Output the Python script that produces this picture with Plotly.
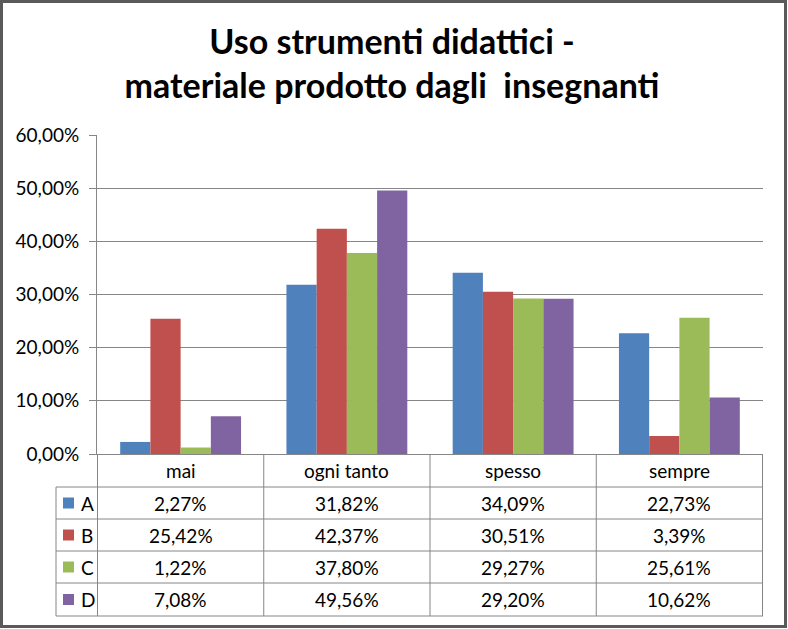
import plotly.graph_objects as go

categories = ["mai", "ogni tanto", "spesso", "sempre"]
series_names = ["A", "B", "C", "D"]
A = [2.27, 31.82, 34.09, 22.73]
B = [25.42, 42.37, 30.51, 3.39]
C = [1.22, 37.80, 29.27, 25.61]
D = [7.08, 49.56, 29.20, 10.62]
series_values = [A, B, C, D]
colors = ["#4F81BD", "#C0504D", "#9BBB59", "#8064A2"]
y_ticks = [0, 10, 20, 30, 40, 50, 60]
title_text = "Uso strumenti didattici -<br>materiale prodotto dagli\u00a0 insegnanti"

W, H = 788, 629
ML, MR, MT, MB = 97, 25, 135, 175
PW, PH = W - ML - MR, H - MT - MB
FONT = "Lato, Calibri, sans-serif"
GRID = "#868686"


def px_x(p):
    return (p - ML) / PW


def px_y(p):
    return (H - MB - p) / PH


def fmt(v):
    return f"{v:.2f}".replace(".", ",") + "%"


fig = go.Figure()
for name, vals, col in zip(series_names, series_values, colors):
    fig.add_trace(go.Bar(
        x=categories, y=[v / 100 for v in vals], name=name,
        marker=dict(color=col, line=dict(width=0)), showlegend=False,
    ))

shapes = []
# outer border
shapes.append(dict(type="rect", xref="paper", yref="paper",
                   x0=px_x(1.5), x1=px_x(785.5), y0=px_y(1.5), y1=px_y(626.5),
                   line=dict(color="#5a5a5a", width=3)))
row_lines = [487, 519, 551, 583, 616]
# table vertical lines (category boundaries)
for b in [-0.5, 0.5, 1.5, 2.5, 3.5]:
    shapes.append(dict(type="line", xref="x", yref="paper", x0=b, x1=b,
                       y0=0, y1=px_y(616), line=dict(color=GRID, width=1)))
# legend column left border
shapes.append(dict(type="line", xref="paper", yref="paper", x0=px_x(56), x1=px_x(56),
                   y0=px_y(487), y1=px_y(616), line=dict(color=GRID, width=1)))
for r in row_lines:
    shapes.append(dict(type="line", xref="paper", yref="paper", x0=px_x(56), x1=1,
                       y0=px_y(r), y1=px_y(r), line=dict(color=GRID, width=1)))

annotations = []
row_centers = [(row_lines[i] + row_lines[i + 1]) / 2 for i in range(4)]
header_center = (454 + 487) / 2
tfont = dict(family=FONT, size=19, color="black")
for i, cat in enumerate(categories):
    annotations.append(dict(x=i, xref="x", y=px_y(header_center), yref="paper",
                            text=cat, showarrow=False, xanchor="center", yanchor="middle",
                            font=tfont))
for r, (name, vals, col) in enumerate(zip(series_names, series_values, colors)):
    yc = px_y(row_centers[r])
    shapes.append(dict(type="rect", xref="paper", yref="paper",
                       x0=px_x(63), x1=px_x(74), y0=px_y(row_centers[r] - 5.5),
                       y1=px_y(row_centers[r] + 5.5), fillcolor=col, line=dict(width=0)))
    annotations.append(dict(x=px_x(79), xref="paper", y=yc, yref="paper", text=name,
                            xanchor="left", yanchor="middle", showarrow=False,
                            font=tfont))
    for i, v in enumerate(vals):
        annotations.append(dict(x=i, xref="x", y=yc, yref="paper", text=fmt(v),
                                showarrow=False, xanchor="center", yanchor="middle",
                                font=tfont))

fig.update_layout(
    width=W, height=H,
    margin=dict(l=ML, r=MR, t=MT, b=MB, pad=0),
    paper_bgcolor="white", plot_bgcolor="white",
    separators=",.",
    barmode="group", bargap=0.273, bargroupgap=0,
    title=dict(text=title_text, x=392 / W, xanchor="center", xref="container",
               y=1 - 54 / H, yref="container", yanchor="middle",
               font=dict(family=FONT, size=34, color="black", weight="bold")),
    xaxis=dict(showline=True, linecolor=GRID, linewidth=1, showticklabels=False,
               ticks="", showgrid=False, zeroline=False),
    yaxis=dict(range=[0, 0.6], tickvals=[t / 100 for t in y_ticks], tickformat=".2%",
               showline=True, linecolor=GRID, linewidth=1, ticks="outside", ticklen=7,
               tickcolor=GRID, showgrid=True, gridcolor=GRID, gridwidth=1,
               zeroline=False, ticklabelstandoff=6,
               tickfont=tfont),
    shapes=shapes, annotations=annotations,
)

fig.write_html("out.html")
